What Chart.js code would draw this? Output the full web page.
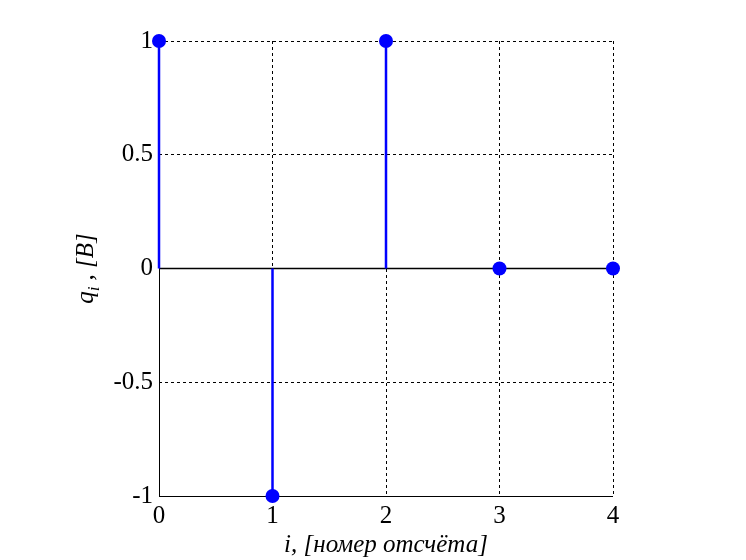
<!DOCTYPE html>
<html><head><meta charset="utf-8">
<script src="https://cdn.jsdelivr.net/npm/chart.js@4/dist/chart.umd.min.js"></script>
<style>html,body{margin:0;padding:0;background:#fff}#wrap{width:746px;height:560px}</style>
</head><body><div id="wrap"><canvas id="c" width="746" height="560"></canvas></div>
<script>
const samples = [0, 1, 2, 3, 4];
const values = [1, -1, 1, 0, 0];
const xTickValues = [0, 1, 2, 3, 4];
const yTickValues = [-1, -0.5, 0, 0.5, 1];
const xTitle = 'i, [номер отсчёта]';
const yTitleMain = 'q';
const yTitleSub = 'i';
const yTitleRest = ' , [B]';

const stemData = [];
samples.forEach((s, k) => { stemData.push({x: s, y: 0}, {x: s, y: values[k]}, {x: null, y: null}); });
const pointData = samples.map((s, k) => ({x: s, y: values[k]}));
const baseData = [{x: xTickValues[0], y: 0}, {x: xTickValues[xTickValues.length - 1], y: 0}];

const FONT = '"Liberation Serif", "Times New Roman", serif';

const yTitlePlugin = {
  id: 'yTitle',
  afterDraw(chart) {
    const ctx = chart.ctx;
    const a = chart.chartArea;
    ctx.save();
    ctx.translate(93, (a.top + a.bottom) / 2);
    ctx.rotate(-Math.PI / 2);
    ctx.fillStyle = '#000';
    ctx.textBaseline = 'alphabetic';
    const big = 'italic 25px ' + FONT, small = 'italic 17px ' + FONT;
    ctx.font = big; const w1 = ctx.measureText(yTitleMain).width; const w3 = ctx.measureText(yTitleRest).width;
    ctx.font = small; const w2 = ctx.measureText(yTitleSub).width;
    let x = -(w1 + w2 + w3) / 2;
    ctx.font = big; ctx.fillText(yTitleMain, x, 0); x += w1;
    ctx.font = small; ctx.fillText(yTitleSub, x, 6); x += w2;
    ctx.font = big; ctx.fillText(yTitleRest, x, 0);
    ctx.restore();
  }
};

const axisLinePlugin = {
  id: 'axisLines',
  beforeDatasetsDraw(chart) {
    const ctx = chart.ctx, a = chart.chartArea;
    ctx.save();
    ctx.strokeStyle = '#000'; ctx.lineWidth = 1; ctx.setLineDash([]);
    ctx.beginPath();
    ctx.moveTo(Math.round(a.left) + 0.5, a.top);
    ctx.lineTo(Math.round(a.left) + 0.5, Math.round(a.bottom) + 0.5);
    ctx.lineTo(a.right, Math.round(a.bottom) + 0.5);
    ctx.stroke();
    ctx.restore();
  }
};

new Chart(document.getElementById('c'), {
  type: 'scatter',
  data: {
    datasets: [
      {data: pointData, showLine: false, pointRadius: 7, pointHoverRadius: 7, pointBackgroundColor: '#0000ff', pointBorderColor: '#0000ff', pointBorderWidth: 0, clip: false, order: 0},
      {data: stemData, showLine: true, spanGaps: false, borderColor: '#0000ff', borderWidth: 2.5, pointRadius: 0, clip: false, order: 1},
      {data: baseData, showLine: true, borderColor: '#000', borderWidth: 1.5, pointRadius: 0, clip: false, order: 2}
    ]
  },
  options: {
    responsive: false, animation: false, devicePixelRatio: 1,
    layout: {padding: {left: 0, right: 133, top: 41, bottom: 0}},
    plugins: {legend: {display: false}, tooltip: {enabled: false},
      title: {display: false}},
    scales: {
      x: {type: 'linear', min: 0, max: 4,
        afterBuildTicks: s => { s.ticks = xTickValues.map(v => ({value: v})); },
        afterFit: s => { s.height = 64; },
        grid: {color: '#000', lineWidth: 1, drawTicks: false},
        border: {display: false, dash: [3, 3]},
        ticks: {color: '#000', font: {family: FONT, size: 25}, padding: 5, maxRotation: 0, callback: v => String(v)},
        title: {display: true, text: xTitle, color: '#000', font: {family: FONT, size: 25, style: 'italic'}, padding: {top: -4, bottom: 0}}
      },
      y: {type: 'linear', min: -1, max: 1,
        afterBuildTicks: s => { s.ticks = yTickValues.map(v => ({value: v})); },
        afterFit: s => { s.width = 159; },
        grid: {color: '#000', lineWidth: 1, drawTicks: false},
        border: {display: false, dash: [3, 3]},
        ticks: {color: '#000', font: {family: FONT, size: 25}, padding: 6, callback: v => String(v)}
      }
    }
  },
  plugins: [yTitlePlugin, axisLinePlugin]
});
</script></body></html>
